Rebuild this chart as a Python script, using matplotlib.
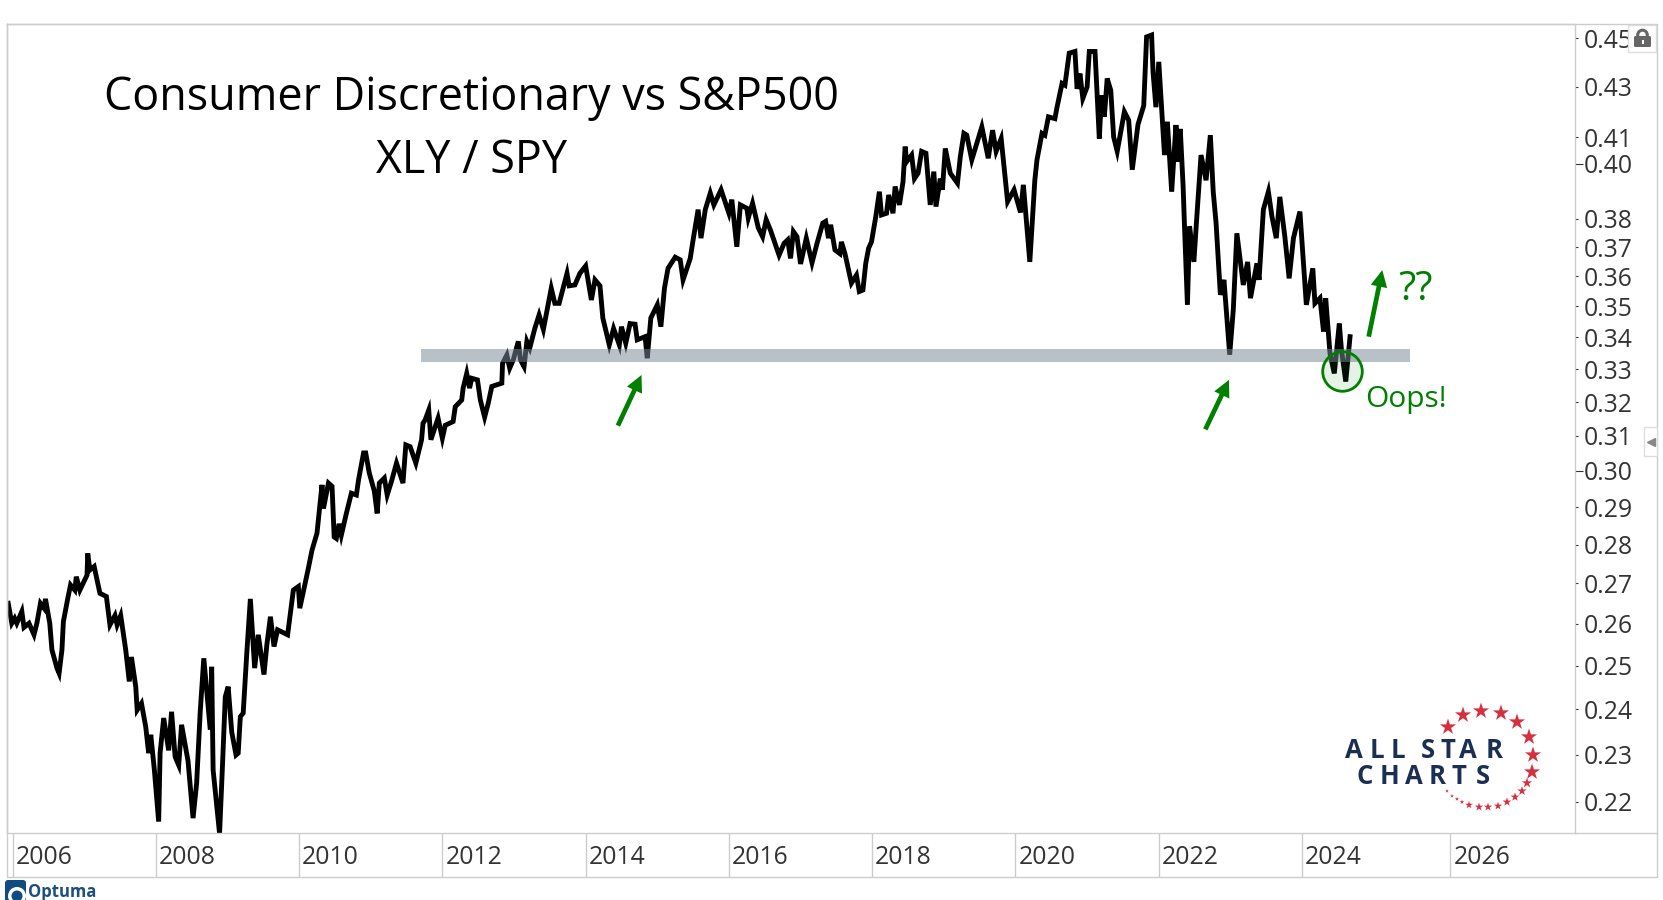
import matplotlib
matplotlib.use('Agg')
import matplotlib.pyplot as plt
from matplotlib.patches import Circle, FancyBboxPatch, Rectangle
from matplotlib.ticker import NullLocator

# weekly-ish readings: decimal year, XLY/SPY ratio
years = [2005.94, 2005.99, 2006.03, 2006.06, 2006.13, 2006.16, 2006.23, 2006.30, 2006.34, 2006.39,
         2006.44, 2006.46, 2006.52, 2006.55, 2006.62, 2006.65, 2006.69, 2006.71, 2006.77, 2006.81,
         2006.87, 2006.89, 2006.94, 2007.04, 2007.05, 2007.08, 2007.14, 2007.22, 2007.31, 2007.36,
         2007.43, 2007.46, 2007.51, 2007.58, 2007.63, 2007.66, 2007.72, 2007.74, 2007.80, 2007.86,
         2007.90, 2007.93, 2007.98, 2008.04, 2008.06, 2008.11, 2008.18, 2008.22, 2008.27, 2008.32,
         2008.36, 2008.45, 2008.52, 2008.57, 2008.62, 2008.67, 2008.76, 2008.78, 2008.80, 2008.89,
         2008.93, 2008.97, 2009.01, 2009.06, 2009.12, 2009.15, 2009.18, 2009.22, 2009.27, 2009.32,
         2009.38, 2009.43, 2009.51, 2009.55, 2009.60, 2009.65, 2009.70, 2009.84, 2009.92, 2009.99,
         2010.01, 2010.13, 2010.18, 2010.25, 2010.32, 2010.34, 2010.41, 2010.46, 2010.49, 2010.52,
         2010.56, 2010.59, 2010.66, 2010.73, 2010.80, 2010.83, 2010.90, 2010.93, 2010.98, 2011.05,
         2011.09, 2011.12, 2011.19, 2011.23, 2011.29, 2011.36, 2011.45, 2011.49, 2011.55, 2011.63,
         2011.71, 2011.73, 2011.76, 2011.81, 2011.84, 2011.90, 2011.94, 2012.00, 2012.04, 2012.15,
         2012.18, 2012.27, 2012.29, 2012.34, 2012.38, 2012.41, 2012.49, 2012.53, 2012.59, 2012.64,
         2012.69, 2012.83, 2012.84, 2012.90, 2012.94, 2012.99, 2013.06, 2013.09, 2013.14, 2013.18,
         2013.22, 2013.29, 2013.35, 2013.41, 2013.48, 2013.52, 2013.57, 2013.63, 2013.74, 2013.77,
         2013.85, 2013.92, 2014.00, 2014.04, 2014.08, 2014.13, 2014.20, 2014.24, 2014.33, 2014.39,
         2014.47, 2014.50, 2014.56, 2014.62, 2014.69, 2014.72, 2014.83, 2014.86, 2014.91, 2015.00,
         2015.05, 2015.10, 2015.15, 2015.25, 2015.32, 2015.36, 2015.46, 2015.50, 2015.57, 2015.61,
         2015.67, 2015.74, 2015.79, 2015.89, 2015.93, 2016.00, 2016.04, 2016.11, 2016.16, 2016.25,
         2016.27, 2016.33, 2016.41, 2016.47, 2016.52, 2016.58, 2016.70, 2016.77, 2016.82, 2016.86,
         2016.90, 2016.95, 2017.00, 2017.08, 2017.16, 2017.23, 2017.31, 2017.35, 2017.39, 2017.42,
         2017.48, 2017.55, 2017.57, 2017.62, 2017.71, 2017.78, 2017.82, 2017.87, 2017.91, 2017.95,
         2017.99, 2018.05, 2018.10, 2018.13, 2018.20, 2018.23, 2018.29, 2018.32, 2018.38, 2018.43,
         2018.46, 2018.48, 2018.55, 2018.59, 2018.64, 2018.69, 2018.75, 2018.81, 2018.86, 2018.89,
         2018.95, 2018.98, 2019.02, 2019.09, 2019.19, 2019.23, 2019.28, 2019.32, 2019.39, 2019.46,
         2019.53, 2019.62, 2019.68, 2019.73, 2019.80, 2019.89, 2019.98, 2020.07, 2020.11, 2020.20,
         2020.27, 2020.30, 2020.37, 2020.41, 2020.46, 2020.55, 2020.58, 2020.65, 2020.69, 2020.75,
         2020.83, 2020.86, 2020.90, 2020.94, 2021.00, 2021.03, 2021.11, 2021.14, 2021.17, 2021.20,
         2021.24, 2021.28, 2021.33, 2021.37, 2021.42, 2021.52, 2021.58, 2021.63, 2021.71, 2021.79,
         2021.83, 2021.90, 2021.92, 2021.96, 2022.00, 2022.08, 2022.12, 2022.18, 2022.24, 2022.27,
         2022.30, 2022.34, 2022.36, 2022.40, 2022.43, 2022.49, 2022.53, 2022.59, 2022.66, 2022.72,
         2022.76, 2022.80, 2022.86, 2022.91, 2022.99, 2023.04, 2023.09, 2023.18, 2023.24, 2023.28,
         2023.37, 2023.40, 2023.46, 2023.53, 2023.58, 2023.64, 2023.69, 2023.76, 2023.82, 2023.88,
         2023.97, 2024.06, 2024.15, 2024.18, 2024.25, 2024.30, 2024.33, 2024.39, 2024.45, 2024.52,
         2024.55, 2024.61, 2024.67]
ratio = [.2650, .2601, .2613, .2601, .2630, .2591, .2601, .2573, .2601, .2650,
         .2638, .2661, .2601, .2537, .2494, .2482, .2537, .2605, .2661, .2696,
         .2683, .2717, .2683, .2721, .2777, .2734, .2743, .2675, .2667, .2597,
         .2620, .2597, .2620, .2537, .2463, .2520, .2451, .2398, .2413, .2360,
         .2303, .2343, .2267, .2160, .2303, .2380, .2309, .2394, .2295, .2277,
         .2365, .2286, .2167, .2239, .2394, .2517, .2354, .2497, .2267, .2136,
         .2274, .2428, .2451, .2349, .2299, .2303, .2383, .2391, .2529, .2661,
         .2494, .2573, .2479, .2549, .2617, .2545, .2585, .2573, .2683, .2692,
         .2638, .2739, .2785, .2830, .2961, .2896, .2966, .2957, .2820, .2816,
         .2855, .2825, .2883, .2938, .2933, .2975, .3051, .3051, .2994, .2944,
         .2883, .2966, .2980, .2933, .2971, .3022, .2966, .3074, .3069, .3022,
         .3089, .3137, .3147, .3176, .3089, .3127, .3152, .3093, .3131, .3142,
         .3186, .3206, .3242, .3287, .3242, .3272, .3267, .3206, .3155, .3196,
         .3247, .3257, .3318, .3344, .3303, .3329, .3387, .3329, .3308, .3387,
         .3366, .3428, .3472, .3425, .3510, .3560, .3510, .3510, .3610, .3568,
         .3571, .3610, .3635, .3577, .3521, .3588, .3568, .3462, .3376, .3428,
         .3376, .3434, .3381, .3444, .3442, .3392, .3402, .3334, .3462, .3505,
         .3434, .3560, .3627, .3665, .3656, .3588, .3661, .3725, .3832, .3731,
         .3832, .3892, .3849, .3904, .3873, .3819, .3868, .3701, .3849, .3837,
         .3802, .3855, .3767, .3736, .3796, .3759, .3672, .3713, .3725, .3661,
         .3754, .3736, .3642, .3731, .3646, .3713, .3784, .3790, .3731, .3778,
         .3690, .3677, .3718, .3677, .3577, .3604, .3549, .3554, .3644, .3696,
         .3718, .3807, .3897, .3813, .3819, .3885, .3819, .3916, .3849, .3933,
         .4065, .4008, .4033, .3945, .3965, .4047, .4040, .3849, .3971, .3843,
         .3945, .3904, .4058, .3965, .3928, .4027, .4116, .4109, .4015, .4078,
         .4141, .4021, .4128, .4047, .4096, .3861, .3904, .3822, .3922, .3649,
         .3939, .4015, .4116, .4109, .4180, .4173, .4218, .4313, .4306, .4437,
         .4444, .4291, .4353, .4253, .4299, .4444, .4444, .4265, .4096, .4265,
         .4180, .4333, .4285, .4102, .4047, .4200, .4167, .3978, .4150, .4224,
         .4505, .4513, .4359, .4218, .4401, .4033, .4161, .3897, .4148, .4008,
         .4133, .3916, .3767, .3505, .3773, .3649, .3802, .4033, .3939, .4109,
         .3897, .3784, .3538, .3588, .3345, .3488, .3748, .3571, .3649, .3527,
         .3644, .3588, .3832, .3897, .3807, .3731, .3878, .3736, .3593, .3731,
         .3825, .3505, .3627, .3510, .3527, .3418, .3527, .3349, .3287, .3444,
         .3360, .3262, .3402]

# gray support zone
support_years = [2011.70, 2025.51]
support_low = .3323
support_high = .3364

# green circle around the breakdown
oops_year = 2024.56
oops_ratio = .3295

# arrows: (tail year, tail ratio, tip year, tip ratio)
arrows = [(2014.45, .3130, 2014.78, .3282),
          (2022.65, .3119, 2022.98, .3267),
          (2024.93, .3402, 2025.12, .3621)]

ytick_values = [.45, .43, .41, .40, .38, .37, .36, .35, .34, .33, .32, .31, .30,
                .29, .28, .27, .26, .25, .24, .23, .22]
long_ticks = [.40, .30]
xtick_years = [2006, 2008, 2010, 2012, 2014, 2016, 2018, 2020, 2022, 2024, 2026.07]
xtick_labels = ['2006', '2008', '2010', '2012', '2014', '2016', '2018', '2020', '2022', '2024', '2026']

# logo stars, picture pixels and size
star_x = [1448, 1463, 1481, 1501, 1517, 1529, 1533, 1532, 1527, 1522, 1515, 1507, 1498, 1488, 1479, 1469, 1462, 1457, 1452, 1447]
star_y = [727, 715, 711, 713, 722, 737, 755, 772, 783, 791, 797, 802, 806, 807, 807, 805, 802, 799, 796, 791]
star_size = [150, 150, 150, 150, 150, 150, 150, 150, 60, 50, 45, 45, 40, 40, 40, 35, 12, 10, 8, 8]

GRAY = '#cccccc'
GREEN = '#008000'
TEXT = '#333333'
NAVY = '#1b2f52'
RED = '#d5303f'

plt.rcParams['font.family'] = ['Open Sans', 'DejaVu Sans']

fig = plt.figure(figsize=(16.63, 9.0), dpi=100)
ax = fig.add_axes([7 / 1663, 67 / 900, 1568 / 1663, 809.5 / 900])

ax.plot(years, ratio, color='black', lw=3.5, solid_joinstyle='miter', zorder=2)
ax.fill_between(support_years, support_low, support_high, color='#7a8898', alpha=0.53, lw=0, zorder=3)
ax.plot([oops_year], [oops_ratio], 'o', ms=28.5, mfc=(0, 0.5, 0, 0.1), mec=GREEN, mew=2, zorder=4)

for x0, y0, x1, y1 in arrows:
    ax.annotate('', xy=(x1, y1), xytext=(x0, y0),
                arrowprops=dict(fc=GREEN, ec='none', width=3.4, headwidth=12, headlength=12, shrink=0),
                zorder=5)

ax.text(2025.35, .3521, '??', color=GREEN, fontsize=28.5, va='baseline', ha='left')
ax.text(2024.88, .3185, 'Oops!', color=GREEN, fontsize=21.5, va='baseline', ha='left')

ax.set_yscale('log')
ax.set_xlim(2005.923, 2027.81)
ax.set_ylim(.2137, .4562)
ax.set_yticks(ytick_values)
ax.set_yticklabels(['%.2f' % v for v in ytick_values])
ax.yaxis.set_minor_locator(NullLocator())
ax.yaxis.tick_right()
ax.tick_params(axis='y', length=2.2, width=0.8, color='#333333', pad=4.0, labelsize=17.8, labelcolor=TEXT)
for tick, v in zip(ax.yaxis.get_major_ticks(), ytick_values):
    if v in long_ticks:
        tick.tick2line.set_markersize(5.6)

ax.set_xticks(xtick_years)
ax.set_xticklabels([])
ax.tick_params(axis='x', length=31.7, width=1, color=GRAY)
for yr, label in zip(xtick_years, xtick_labels):
    ax.annotate(label, xy=(yr, 0), xycoords=('data', 'axes fraction'), xytext=(3, -31),
                textcoords='offset pixels', fontsize=17.8, color=TEXT, ha='left', va='baseline',
                annotation_clip=False)
for side in ax.spines.values():
    side.set_color(GRAY)
    side.set_linewidth(1)

# overlay in picture pixels for the frame, title and logos
over = fig.add_axes([0, 0, 1, 1], zorder=10)
over.set_xlim(0, 1663)
over.set_ylim(900, 0)
over.axis('off')

over.plot([7, 7, 1657, 1657, 7], [23.5, 877, 877, 23.5, 23.5], color=GRAY, lw=1)
over.plot([1575, 1657], [833, 833], color=GRAY, lw=1)

over.text(471, 110, 'Consumer Discretionary vs S&P500', fontsize=32.3, color='black', ha='center', va='baseline')
over.text(472, 173, 'XLY / SPY', fontsize=32.3, color='black', ha='center', va='baseline')

# All Star Charts logo
for ch, cx in zip('ALLSTAR', [1354, 1376.5, 1398, 1428, 1448, 1468, 1494]):
    over.text(cx, 757.5, ch, fontsize=18.5, fontweight='bold', color=NAVY, ha='center', va='baseline')
for ch, cx in zip('CHARTS', [1365, 1390, 1414, 1437, 1459, 1483]):
    over.text(cx, 784, ch, fontsize=18.5, fontweight='bold', color=NAVY, ha='center', va='baseline')
over.scatter(star_x, star_y, s=star_size, marker='*', color=RED, lw=0)

# lock button
over.add_patch(Rectangle((1628, 24.5), 28, 27, fc='white', ec='#dddddd', lw=1, zorder=6))
over.add_patch(Circle((1642.5, 35), 4.8, fc='none', ec='#666666', lw=2.2, zorder=7))
over.add_patch(FancyBboxPatch((1634, 36), 17, 11, boxstyle='round,pad=0,rounding_size=1.5', fc='#666666', ec='none', zorder=8))
over.add_patch(Rectangle((1641.5, 40), 2, 4, fc='white', ec='none', zorder=9))

# collapse tab
over.add_patch(Rectangle((1644, 427), 13, 29, fc='white', ec='#dddddd', lw=1, zorder=6))
over.plot([1651], [442], marker='<', ms=5.5, color='#888888', zorder=7)

# Optuma logo
over.add_patch(FancyBboxPatch((5, 880), 21, 25, boxstyle='round,pad=0,rounding_size=3', fc='#0f4c81', ec='none', clip_on=False))
over.add_patch(Circle((17, 896), 9, fc='white', ec='none'))
over.add_patch(Circle((17, 896), 5.5, fc='#0f4c81', ec='none'))
over.text(28, 897, 'Optuma', fontsize=12, fontweight='bold', color='#1d4f7c', ha='left', va='baseline')

fig.savefig('out.png', dpi=100)
